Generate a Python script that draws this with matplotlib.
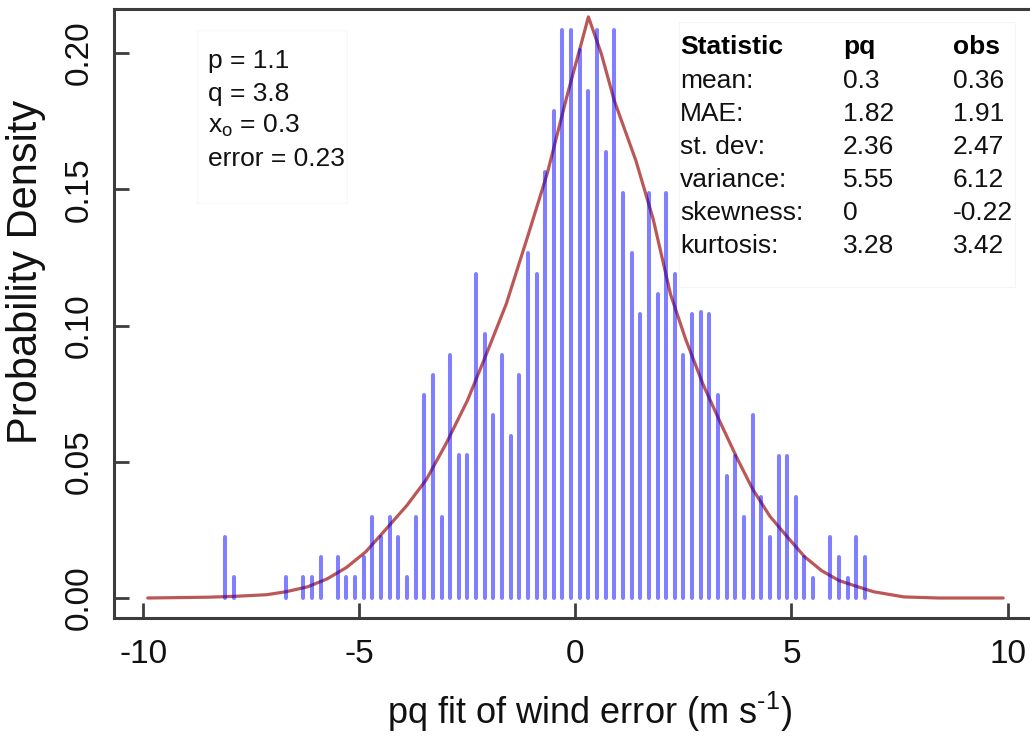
import numpy as np
import matplotlib
matplotlib.use("Agg")
import matplotlib.pyplot as plt
from matplotlib.patches import Rectangle

plt.rcParams['font.family'] = ['Liberation Sans', 'DejaVu Sans']
plt.rcParams['mathtext.fontset'] = 'custom'
plt.rcParams['mathtext.rm'] = 'Liberation Sans'
plt.rcParams['mathtext.it'] = 'Liberation Sans'
plt.rcParams['mathtext.bf'] = 'Liberation Sans:bold'

# histogram of observed wind error, 0.2 m/s bins (density)
bin_centres = np.round(np.arange(-8.1, 7.8, 0.2), 1)
density = [0.0225, 0.0078, 0, 0, 0, 0, 0, 0.0078, 0, 0.0078,
           0.0078, 0.0152, 0, 0.0152, 0.0078, 0.0078, 0.0152, 0.0298, 0.0225, 0.0298,
           0.0225, 0.0078, 0.0298, 0.0745, 0.0819, 0.0298, 0.0892, 0.0525, 0.0525, 0.1190,
           0.0970, 0.0670, 0.0892, 0.0596, 0.0819, 0.1265, 0.1190, 0.1565, 0.1787, 0.2085,
           0.2085, 0.2010, 0.1860, 0.2085, 0.1637, 0.2085, 0.1488, 0.1265, 0.1042, 0.1488,
           0.1116, 0.1488, 0.1190, 0.0892, 0.1042, 0.1050, 0.1042, 0.0745, 0.0447, 0.0521,
           0.0298, 0.0670, 0.0372, 0.0223, 0.0521, 0.0521, 0.0372, 0.0149, 0.0075, 0,
           0.0223, 0.0149, 0.0075, 0.0223, 0.0149, 0, 0, 0, 0, 0]

# pq fit curve
curve_x = [-9.9, -8.5, -7.9, -7.15, -6.7, -6.2, -5.75, -5.3, -4.85, -4.4,
           -3.9, -3.45, -3.0, -2.5, -2.05, -1.6, -1.1, -0.65, -0.2, 0.1,
           0.3, 0.6, 0.9, 1.4, 1.8, 2.2, 2.55, 2.95, 3.35, 3.75,
           4.1, 4.5, 4.9, 5.3, 5.7, 6.1, 6.5, 6.9, 7.6, 8.4, 9.9]
curve_y = [0.0, 0.0003, 0.0006, 0.0012, 0.0023, 0.0041, 0.0070, 0.0112, 0.0170, 0.0250,
           0.0340, 0.0435, 0.0565, 0.0725, 0.0900, 0.1080, 0.1330, 0.1560, 0.1840, 0.2015,
           0.2133, 0.1997, 0.1825, 0.1605, 0.1390, 0.1115, 0.0950, 0.0785, 0.0645, 0.0510,
           0.0400, 0.0300, 0.0225, 0.0152, 0.0100, 0.0064, 0.0043, 0.0023, 0.0004, 0.0, 0.0]

params = ["p = 1.1", "q = 3.8", "x$_\\mathrm{o}$ = 0.3", "error = 0.23"]
stat_names = ["mean:", "MAE:", "st. dev:", "variance:", "skewness:", "kurtosis:"]
stat_pq = ["0.3", "1.82", "2.36", "5.55", "0", "3.28"]
stat_obs = ["0.36", "1.91", "2.47", "6.12", "-0.22", "3.42"]

xticks = [-10, -5, 0, 5, 10]
yticks = [0.00, 0.05, 0.10, 0.15, 0.20]

W, H = 1030, 737
fig = plt.figure(figsize=(W / 100, H / 100), dpi=100)
ax = fig.add_axes([114 / W, 1 - 618 / H, 1 - 114 / W, (618 - 9) / H])
ax.set_xlim(-10.68, 10.52)
ax.set_ylim(-0.00734, 0.2162)

ax.plot(curve_x, curve_y, color='#b03a3a', lw=2.3, alpha=0.85, zorder=2,
        solid_capstyle='round', solid_joinstyle='round')
ax.vlines(bin_centres, 0, density, color='blue', alpha=0.5, lw=2.9, zorder=3,
          capstyle='round')

for s in ['left', 'bottom', 'top']:
    ax.spines[s].set_color('#3c3c3c')
    ax.spines[s].set_linewidth(2.2)
ax.spines['right'].set_visible(False)

ax.set_xticks(xticks)
ax.set_xticklabels([str(t) for t in xticks])
ax.set_yticks(yticks)
ax.set_yticklabels(["%.2f" % t for t in yticks], rotation=90, va='center')
ax.tick_params(direction='in', length=11, width=2, color='#3c3c3c',
               labelsize=24, labelcolor='#111111')
ax.tick_params(axis='x', pad=15)
ax.tick_params(axis='y', pad=14)

fig.text(590 / W, 1 - 712 / H, "pq fit of wind error (m s$^{\\text{-}1}$)",
         ha='center', va='center', fontsize=26, color='#111111')
fig.text(26 / W, 1 - 272 / H, "Probability Density", rotation=90,
         ha='center', va='center', fontsize=30, color='#111111')

# faint legend boxes
fig.patches.append(Rectangle((197 / W, 1 - 203 / H), 150 / W, 173 / H,
                             transform=fig.transFigure, facecolor='none',
                             edgecolor='#f7f7f7', lw=0.8))
fig.patches.append(Rectangle((679 / W, 1 - 287 / H), 336 / W, 265 / H,
                             transform=fig.transFigure, facecolor='none',
                             edgecolor='#f5f5f5', lw=0.8))

# fit parameters
for i, t in enumerate(params):
    fig.text(208 / W, 1 - (68 + 32.5 * i) / H, t, fontsize=19,
             va='baseline', ha='left', color='#111111')

# statistics table
fig.text(680 / W, 1 - 54 / H, "Statistic", fontsize=19, fontweight='bold', va='baseline')
fig.text(843 / W, 1 - 54 / H, "pq", fontsize=19, fontweight='bold', va='baseline')
fig.text(953 / W, 1 - 54 / H, "obs", fontsize=19, fontweight='bold', va='baseline')
for i in range(len(stat_names)):
    yy = 1 - (87.5 + 33.2 * i) / H
    fig.text(680 / W, yy, stat_names[i], fontsize=19, va='baseline', color='#111111')
    fig.text(843 / W, yy, stat_pq[i], fontsize=19, va='baseline', color='#111111')
    fig.text(953 / W, yy, stat_obs[i], fontsize=19, va='baseline', color='#111111')

fig.savefig("out.png", dpi=100)
